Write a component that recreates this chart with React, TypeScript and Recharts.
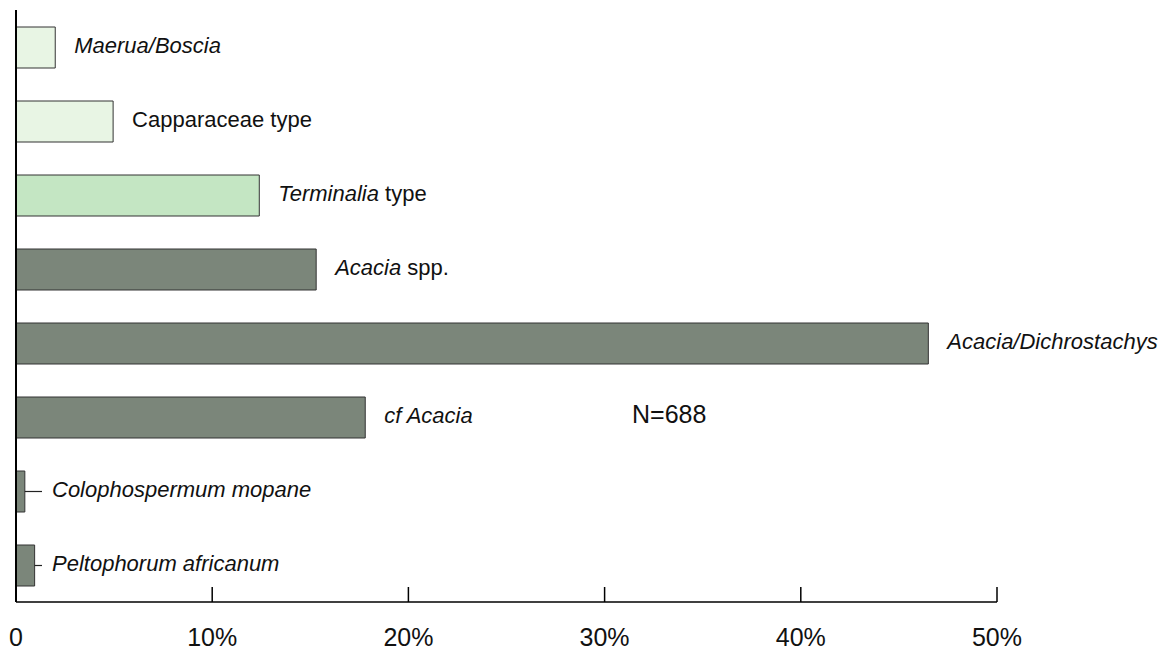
import { Bar, BarChart, Cell, LabelList, XAxis, YAxis } from "recharts";

// taxa, top to bottom
const taxa = [
  "Maerua/Boscia",
  "Capparaceae type",
  "Terminalia type",
  "Acacia spp.",
  "Acacia/Dichrostachys",
  "cf Acacia",
  "Colophospermum mopane",
  "Peltophorum africanum"
];

// italic part / roman part of each label
const italicParts = ["Maerua/Boscia", "", "Terminalia", "Acacia", "Acacia/Dichrostachys", "cf Acacia", "Colophospermum mopane", "Peltophorum africanum"];
const romanParts = ["", "Capparaceae type", " type", " spp.", "", "", "", ""];

// percentage of charcoal fragments
const percents = [2.0, 4.95, 12.4, 15.3, 46.5, 17.8, 0.45, 0.95];

const group = ["light", "light", "mid", "dark", "dark", "dark", "dark", "dark"];

const xTicks = [0, 10, 20, 30, 40, 50];
const tickLabels = ["0", "10%", "20%", "30%", "40%", "50%"];

const sampleNote = "N=688";

const FILLS: Record<string, string> = {
  light: "#e8f5e4",
  mid: "#c4e6c3",
  dark: "#7b867a"
};

const FONT = "'Liberation Sans', Arial, sans-serif";

const data = taxa.map((name, i) => ({ name, value: percents[i] }));

function BarLabel(props: any) {
  const vb = props.viewBox ?? props;
  const x = Number(vb.x ?? props.x);
  const y = Number(vb.y ?? props.y);
  const w = Number(vb.width ?? props.width);
  const h = Number(vb.height ?? props.height);
  const idx = Number(props.index);
  const end = x + w;
  const cy = y + h / 2;
  const small = percents[idx] < 1;
  const tx = small ? x + 36 : end + 19;
  return (
    <g>
      {small && <line x1={end} x2={x + 26} y1={cy} y2={cy} stroke="#222" strokeWidth={1.2} />}
      <text x={tx} y={cy + 5} fontFamily={FONT} fontSize={22} fill="#111">
        {italicParts[idx] && <tspan fontStyle="italic">{italicParts[idx]}</tspan>}
        {romanParts[idx] && <tspan>{romanParts[idx]}</tspan>}
      </text>
    </g>
  );
}

function XTick(props: any) {
  const { x, y, payload } = props;
  const i = xTicks.indexOf(payload.value);
  return (
    <g>
      <line x1={x} x2={x} y1={y - 15} y2={y} stroke="#000" strokeWidth={1.5} />
      <text x={x} y={y + 44} textAnchor="middle" fontFamily={FONT} fontSize={25} fill="#111">
        {tickLabels[i]}
      </text>
    </g>
  );
}

export default function App() {
  return (
    <div style={{ position: "absolute", left: 0, top: 0, width: 1169, height: 651, background: "#fff" }}>
      <BarChart
        width={1169}
        height={651}
        data={data}
        layout="vertical"
        margin={{ top: 10, right: 172, left: 14, bottom: 0 }}
      >
        <XAxis
          type="number"
          domain={[0, 50]}
          ticks={xTicks}
          height={49}
          tickSize={0}
          tickMargin={0}
          tickLine={false}
          axisLine={{ stroke: "#000", strokeWidth: 1.5 }}
          tick={<XTick />}
          interval={0}
        />
        <YAxis
          type="category"
          dataKey="name"
          width={2}
          tick={false}
          tickLine={false}
          axisLine={{ stroke: "#000", strokeWidth: 2 }}
        />
        <Bar dataKey="value" barSize={41} stroke="#333" strokeWidth={1} isAnimationActive={false}>
          {data.map((d, i) => (
            <Cell key={d.name} fill={FILLS[group[i]]} />
          ))}
          <LabelList dataKey="value" content={<BarLabel />} />
        </Bar>
      </BarChart>
      <div
        style={{
          position: "absolute",
          left: 632,
          top: 402,
          fontFamily: FONT,
          fontSize: 25,
          lineHeight: 1,
          color: "#111"
        }}
      >
        {sampleNote}
      </div>
    </div>
  );
}
